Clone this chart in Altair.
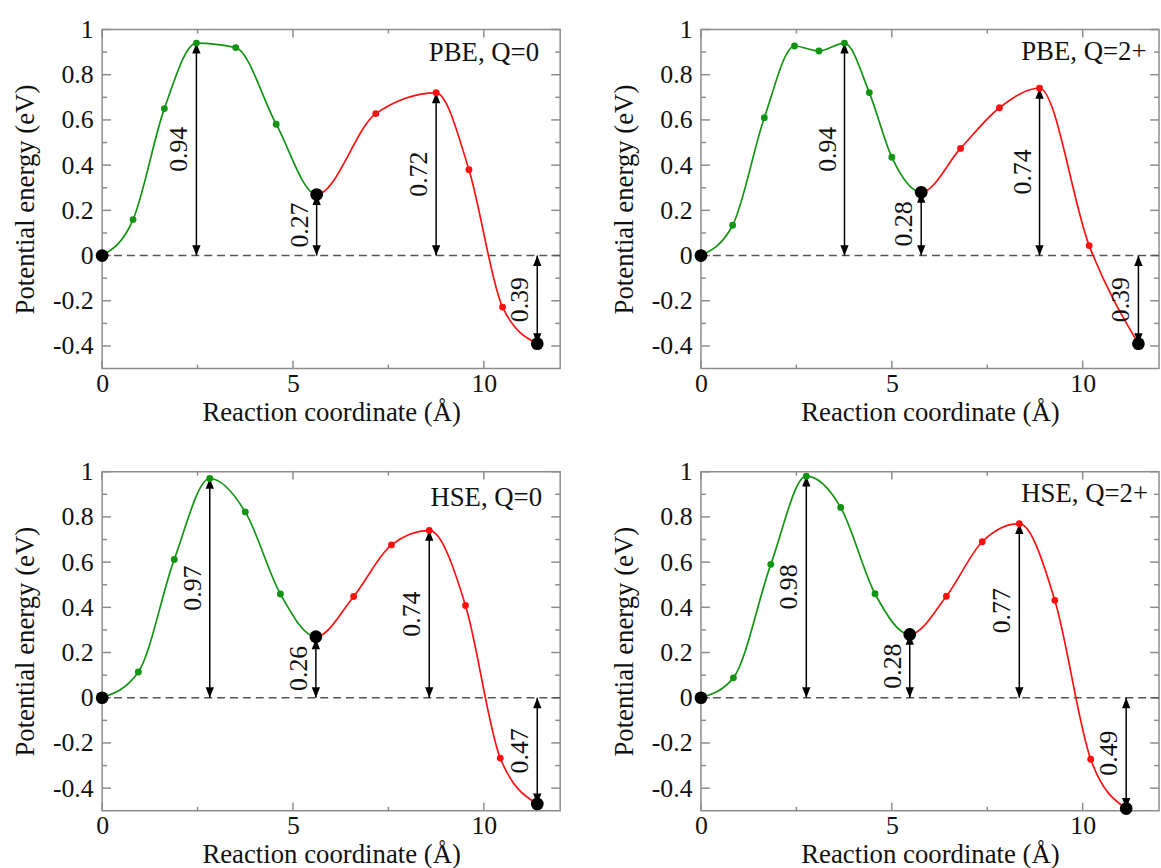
import altair as alt
import pandas as pd

SERIF = "Liberation Serif"
W, H = 462, 342
GREEN = "#119411"
RED = "#ff1010"
FRAME = "#8c8c8c"
INK = "#111111"

# NEB energy profiles: reaction coordinate (Å) and energy (eV) of every image
PBE_Q0_X = [0.0, 0.81, 1.63, 2.47, 3.50, 4.56, 5.62, 7.17, 8.75, 9.61, 10.49, 11.40]
PBE_Q0_E = [0.0, 0.159, 0.65, 0.94, 0.92, 0.581, 0.27, 0.628, 0.72, 0.38, -0.228, -0.39]

PBE_Q2_X = [0.0, 0.83, 1.66, 2.45, 3.09, 3.76, 4.41, 5.00, 5.77, 6.80, 7.82, 8.87, 10.17, 11.46]
PBE_Q2_E = [0.0, 0.134, 0.61, 0.927, 0.905, 0.94, 0.721, 0.435, 0.28, 0.474, 0.654, 0.74, 0.044, -0.39]

HSE_Q0_X = [0.0, 0.95, 1.89, 2.82, 3.75, 4.67, 5.60, 6.59, 7.58, 8.57, 9.52, 10.43, 11.40]
HSE_Q0_E = [0.0, 0.114, 0.612, 0.97, 0.822, 0.459, 0.27, 0.448, 0.676, 0.74, 0.408, -0.267, -0.47]

HSE_Q2_X = [0.0, 0.85, 1.83, 2.76, 3.66, 4.56, 5.47, 6.43, 7.37, 8.34, 9.27, 10.21, 11.14]
HSE_Q2_E = [0.0, 0.088, 0.59, 0.98, 0.842, 0.46, 0.28, 0.449, 0.69, 0.77, 0.431, -0.272, -0.49]

# index of the intermediate minimum separating the two steps
MID_INDEX = [6, 8, 6, 6]

# barriers / reaction energies (eV) and the image each arrow is drawn at
BARRIERS = [
    [0.94, 0.27, 0.72, -0.39],
    [0.94, 0.28, 0.74, -0.39],
    [0.97, 0.26, 0.74, -0.47],
    [0.98, 0.28, 0.77, -0.49],
]
BARRIER_AT = [
    [3, 6, 8, 11],
    [5, 8, 11, 13],
    [3, 6, 9, 12],
    [3, 6, 9, 12],
]

PANEL_TITLES = ["PBE, Q=0", "PBE, Q=2+", "HSE, Q=0", "HSE, Q=2+"]
TITLE_X = [8.56, 8.39, 8.60, 8.39]
TITLE_Y = [0.895, 0.90, 0.882, 0.903]

# axis ticks
X_MAJOR = [0, 5, 10]
X_MINOR = [2.5, 7.5]
Y_MAJOR = [-0.4, -0.2, 0, 0.2, 0.4, 0.6, 0.8, 1.0]
Y_MINOR = [-0.3, -0.1, 0.1, 0.3, 0.5, 0.7, 0.9]

X_SCALE = alt.Scale(domain=[0, 12], nice=False, zero=False)
Y_SCALE = alt.Scale(domain=[-0.5, 1.0], nice=False, zero=False)

X_AXIS = alt.Axis(
    values=X_MAJOR, title="Reaction coordinate (Å)", ticks=False, domain=False,
    grid=False, labelFont=SERIF, labelFontSize=26, labelColor=INK, labelPadding=2,
    labelFlush=False, labelExpr="'' + datum.value",
    titleFont=SERIF, titleFontSize=27, titleFontWeight="normal", titleColor=INK,
    titleX=W / 2, titleY=44, titleBaseline="middle", titleAlign="center",
)
Y_AXIS = alt.Axis(
    values=Y_MAJOR, title="Potential energy (eV)", ticks=False, domain=False,
    grid=False, labelFont=SERIF, labelFontSize=26, labelColor=INK, labelPadding=9,
    labelFlush=False, labelExpr="'' + datum.value",
    titleFont=SERIF, titleFontSize=27, titleFontWeight="normal", titleColor=INK,
    titleX=-77, titleY=H / 2, titleAngle=270, titleBaseline="middle", titleAlign="center",
)


def X(field):
    return alt.X(field, type="quantitative", scale=X_SCALE, axis=X_AXIS)


def Y(field):
    return alt.Y(field, type="quantitative", scale=Y_SCALE, axis=Y_AXIS)


def tick_layers():
    ymaj = pd.DataFrame({"t": Y_MAJOR})
    ymin = pd.DataFrame({"t": Y_MINOR})
    xmaj = pd.DataFrame({"t": X_MAJOR})
    xmin = pd.DataFrame({"t": X_MINOR})
    rule = dict(color=FRAME, strokeWidth=1.5)
    layers = []
    for df, n in ((ymaj, 9), (ymin, 5)):
        layers.append(alt.Chart(df).mark_rule(**rule).encode(
            y=Y("t"), x=alt.value(0), x2=alt.value(n)))
        layers.append(alt.Chart(df).mark_rule(**rule).encode(
            y=Y("t"), x=alt.value(W - n), x2=alt.value(W)))
    for df, n in ((xmaj, 8), (xmin, 4)):
        layers.append(alt.Chart(df).mark_rule(**rule).encode(
            x=X("t"), y=alt.value(H), y2=alt.value(H - n)))
        layers.append(alt.Chart(df).mark_rule(**rule).encode(
            x=X("t"), y=alt.value(0), y2=alt.value(n)))
    return layers


def panel(k, xs, es):
    n = len(xs)
    mid = MID_INDEX[k]
    prof = pd.DataFrame({"x": xs, "e": es})
    prof["step"] = ["first" if i < mid else "second" for i in range(n)]
    inner = prof.drop(index=[0, mid, n - 1])
    ends = prof.loc[[0, mid, n - 1]]

    arrows = pd.DataFrame({"x": [xs[i] for i in BARRIER_AT[k]], "v": BARRIERS[k]})
    arrows["hi"] = arrows["v"].clip(lower=0)
    arrows["lo"] = arrows["v"].clip(upper=0)
    arrows["mid"] = arrows["v"] / 2
    arrows["text"] = arrows["v"].abs().map(lambda v: f"{v:.2f}")

    zero = alt.Chart(pd.DataFrame({"e": [0]})).mark_rule(
        color="#555555", strokeWidth=1.4, strokeDash=[8, 5]).encode(y=Y("e"))

    shafts = alt.Chart(arrows).mark_rule(color="black", strokeWidth=1.5).encode(
        x=X("x"), y=Y("lo"), y2="hi")
    head_up = alt.Chart(arrows).mark_point(
        shape="M0,0L-0.8,2L0.8,2Z", size=110, filled=True, opacity=1,
        color="black", strokeWidth=0).encode(x=X("x"), y=Y("hi"))
    head_down = alt.Chart(arrows).mark_point(
        shape="M0,0L-0.8,-2L0.8,-2Z", size=110, filled=True, opacity=1,
        color="black", strokeWidth=0).encode(x=X("x"), y=Y("lo"))

    # one continuous spline through all images; green for the first step,
    # red for the second, switching exactly at the intermediate minimum
    split = (xs[mid] - xs[0]) / (xs[-1] - xs[0])
    two_tone = alt.Gradient(
        gradient="linear", x1=0, x2=1, y1=0, y2=0,
        stops=[alt.GradientStop(color=GREEN, offset=0),
               alt.GradientStop(color=GREEN, offset=split),
               alt.GradientStop(color=RED, offset=split),
               alt.GradientStop(color=RED, offset=1)])
    curve = alt.Chart(prof).mark_line(
        color=two_tone, strokeWidth=1.7, interpolate="monotone").encode(
        x=X("x"), y=Y("e"))

    dots = alt.Chart(inner).mark_circle(size=48, opacity=1).encode(
        x=X("x"), y=Y("e"),
        color=alt.Color("step:N", scale=alt.Scale(domain=["first", "second"],
                                                  range=[GREEN, RED]), legend=None))
    big = alt.Chart(ends).mark_circle(size=165, opacity=1, color="black").encode(
        x=X("x"), y=Y("e"))

    values = alt.Chart(arrows).mark_text(
        font=SERIF, fontSize=26, angle=270, align="center", baseline="middle",
        color=INK, xOffset=-17).encode(x=X("x"), y=Y("mid"), text="text:N")

    name = alt.Chart(pd.DataFrame({"x": [TITLE_X[k]], "e": [TITLE_Y[k]],
                                   "t": [PANEL_TITLES[k]]})).mark_text(
        font=SERIF, fontSize=27, align="left", baseline="middle", color=INK).encode(
        x=X("x"), y=Y("e"), text="t:N")

    layers = tick_layers() + [zero, shafts, head_up, head_down, curve,
                              dots, big, values, name]
    return alt.layer(*layers).properties(width=W, height=H)


p1 = panel(0, PBE_Q0_X, PBE_Q0_E)
p2 = panel(1, PBE_Q2_X, PBE_Q2_E)
p3 = panel(2, HSE_Q0_X, HSE_Q0_E)
p4 = panel(3, HSE_Q2_X, HSE_Q2_E)

chart = (
    alt.concat(p1, p2, p3, p4, columns=2, bounds="flush",
               spacing={"row": 104, "column": 142})
    .properties(padding={"left": 11, "top": 12, "right": 0, "bottom": 0},
                background="white")
    .configure_view(stroke=FRAME, strokeWidth=1.5)
)

chart.save("out.html", embed_options={"renderer": "svg", "actions": False})
